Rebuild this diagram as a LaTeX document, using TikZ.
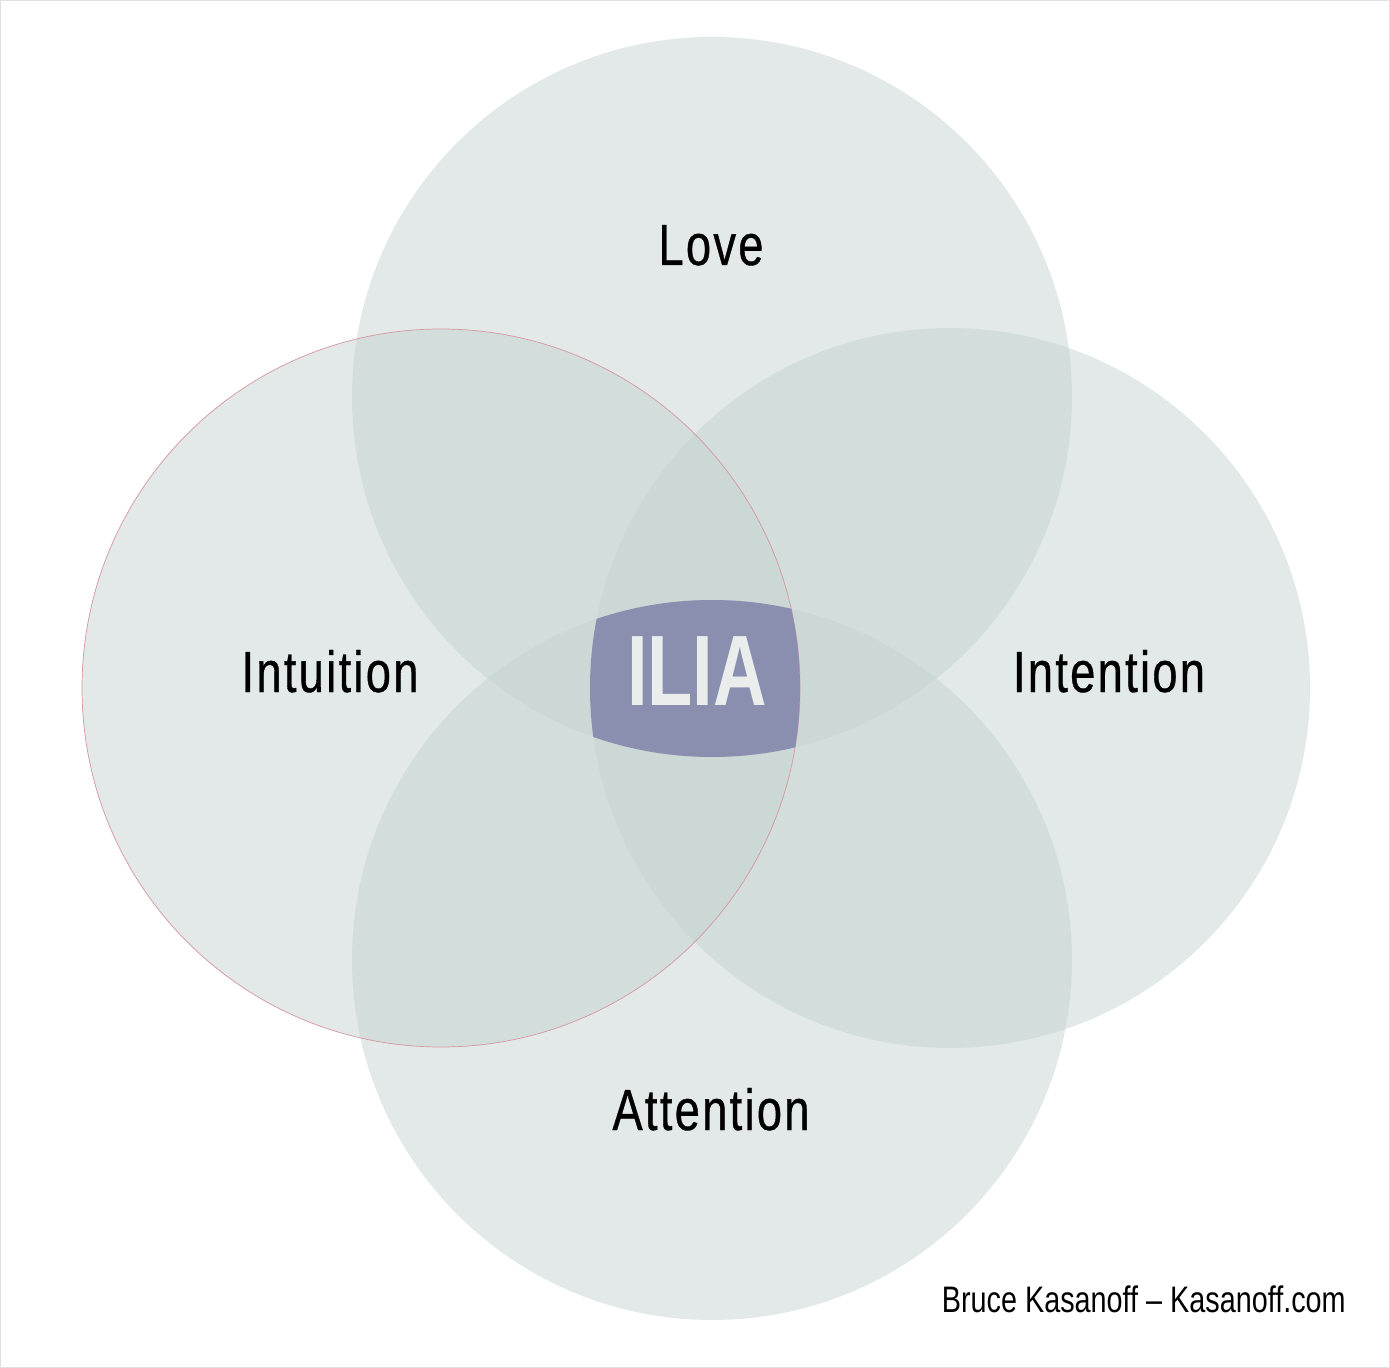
\documentclass[tikz,border=0pt]{standalone}
\usepackage{fontspec}
\setmainfont{Liberation Sans}[FakeStretch=0.78]
\newfontfamily\lblfont{Liberation Sans}[FakeStretch=0.78,LetterSpace=4,FakeBold=0.6]
\newfontfamily\iliafont{Liberation Sans Bold}[FakeStretch=0.74]
\definecolor{venn}{RGB}{195,211,207}
\definecolor{core}{RGB}{138,143,175}
\definecolor{coretext}{RGB}{233,238,236}
\definecolor{rim}{RGB}{214,150,160}
\definecolor{frame}{RGB}{224,224,224}
\begin{document}
\begin{tikzpicture}[x=0.02cm,y=-0.02cm,
  setfill/.style={fill=venn,fill opacity=0.48},
  label/.style={anchor=base,text=black,font=\lblfont\fontsize{33pt}{33pt}\selectfont}]
\useasboundingbox (0,0) rectangle (1390,1368);
\fill[white] (0,0) rectangle (1390,1368);
\draw[frame,line width=1pt] (0.5,0.5) rectangle (1389.5,1367.5);
% circles
\fill[setfill] (712,397) circle (360);
\fill[setfill] (441,688) circle (359);
\fill[setfill] (950,688) circle (360);
\fill[setfill] (712,960) circle (360);
\draw[rim,line width=0.4pt] (441,688) circle (359);
% core region: intersection of all four
\begin{scope}
  \clip (712,397) circle (360);
  \clip (441,688) circle (359);
  \clip (950,688) circle (360);
  \clip (712,960) circle (360);
  \fill[core] (0,0) rectangle (1390,1368);
\end{scope}
\node[label] (love) at (711,265) {Love};
\node[label] (intuition) at (330,692) {Intuition};
\node[label] (intention) at (1109,692) {Intention};
\node[label] (attention) at (711,1130) {Attention};
\node[anchor=base,text=coretext,font=\iliafont\fontsize{57pt}{57pt}\selectfont] (ilia) at (697,705) {ILIA};
\node[anchor=base east,inner sep=0pt,font=\fontsize{21pt}{21pt}\selectfont] (credit) at (1346,1312) {Bruce Kasanoff -- Kasanoff.com};
\end{tikzpicture}
\end{document}
